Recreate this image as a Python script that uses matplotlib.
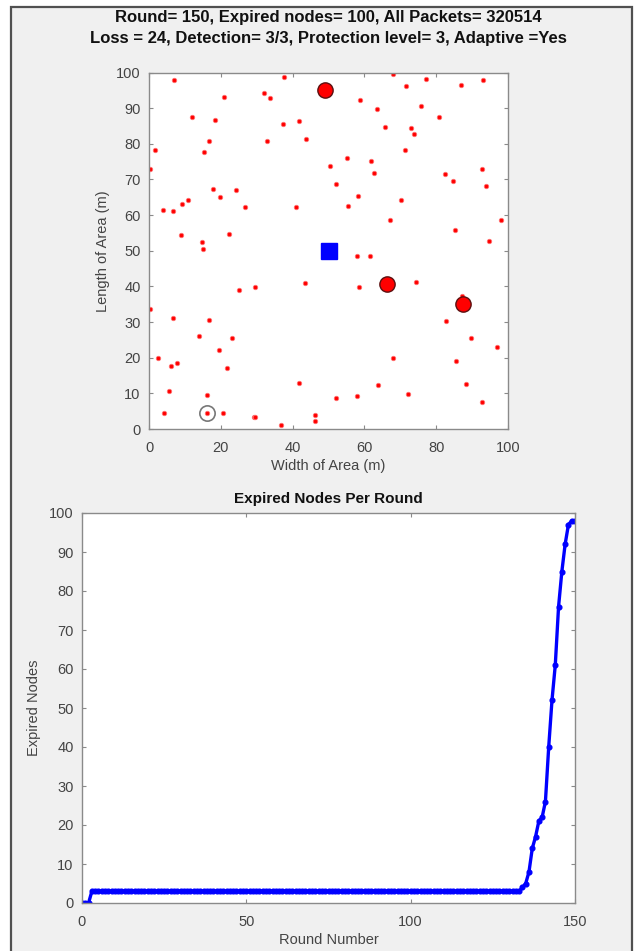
import matplotlib
matplotlib.use("Agg")
import matplotlib.pyplot as plt
from matplotlib.patches import Rectangle
import numpy as np

plt.rcParams['font.family'] = ['Liberation Sans', 'DejaVu Sans']

# ---------------- data ----------------
node_x = [7.0, 37.6, 21.0, 32.1, 33.6, 12.0, 18.4, 37.2, 41.8, 16.8, 32.8, 43.7, 1.6, 15.3, 0.2,
          17.7, 24.3, 19.9, 10.9, 9.3, 26.7, 40.9, 3.9, 6.7, 9.0, 22.2, 14.9, 15.0,
          68.0, 77.2, 87.0, 92.9, 71.5, 58.8, 63.6, 75.7, 80.9, 65.6, 73.0, 73.8, 71.3, 55.1, 61.7,
          50.4, 62.8, 82.5, 92.8, 84.7, 93.8, 52.1, 58.3, 55.4, 70.2, 67.0, 98.1, 85.2, 94.6,
          43.5, 29.5, 25.2, 0.3, 6.8, 16.6, 14.0, 23.1, 19.5, 2.5, 7.7, 6.1, 21.8, 41.7, 5.7, 16.2,
          4.3, 16.1, 20.7, 29.2, 29.6, 36.8, 46.3, 46.3,
          57.8, 61.6, 58.5, 74.4, 87.2, 82.8, 89.6, 97.0, 68.0, 85.5, 63.7, 88.3, 52.2, 58.0, 72.2, 92.7]
node_y = [97.8, 98.6, 93.1, 94.3, 92.9, 87.5, 86.6, 85.6, 86.3, 80.8, 80.8, 81.4, 78.2, 77.7, 73.0,
          67.3, 67.0, 65.1, 64.2, 63.2, 62.2, 62.2, 61.4, 61.1, 54.4, 54.8, 52.5, 50.6,
          99.7, 98.3, 96.6, 97.8, 96.3, 92.2, 89.9, 90.5, 87.4, 84.6, 84.5, 82.7, 78.3, 76.1, 75.2,
          73.7, 71.7, 71.6, 72.8, 69.6, 68.1, 68.8, 65.3, 62.6, 64.1, 58.5, 58.7, 55.8, 52.7,
          40.9, 39.9, 38.9, 33.8, 31.1, 30.5, 26.2, 25.4, 22.1, 20.0, 18.6, 17.6, 17.0, 12.8, 10.7, 9.4,
          4.5, 4.5, 4.6, 3.5, 3.5, 1.1, 3.9, 2.3,
          48.5, 48.5, 39.8, 41.2, 37.2, 30.2, 25.4, 23.0, 19.8, 19.1, 12.4, 12.7, 8.7, 9.2, 9.8, 7.6]

big_x = [49.0, 66.2, 87.6]
big_y = [95.0, 40.8, 35.0]
sink_x = [50.0]
sink_y = [50.0]
ring_x = [16.1]
ring_y = [4.5]

rounds = np.arange(0, 151)
expired = [0, 0, 0, 3, 3, 3, 3, 3, 3, 3,
           3, 3, 3, 3, 3, 3, 3, 3, 3, 3,
           3, 3, 3, 3, 3, 3, 3, 3, 3, 3,
           3, 3, 3, 3, 3, 3, 3, 3, 3, 3,
           3, 3, 3, 3, 3, 3, 3, 3, 3, 3,
           3, 3, 3, 3, 3, 3, 3, 3, 3, 3,
           3, 3, 3, 3, 3, 3, 3, 3, 3, 3,
           3, 3, 3, 3, 3, 3, 3, 3, 3, 3,
           3, 3, 3, 3, 3, 3, 3, 3, 3, 3,
           3, 3, 3, 3, 3, 3, 3, 3, 3, 3,
           3, 3, 3, 3, 3, 3, 3, 3, 3, 3,
           3, 3, 3, 3, 3, 3, 3, 3, 3, 3,
           3, 3, 3, 3, 3, 3, 3, 3, 3, 3,
           3, 3, 3, 3, 4, 5, 8, 14, 17, 21,
           22, 26, 40, 52, 61, 76, 85, 92, 97, 98,
           98]

top_title = "Round= 150, Expired nodes= 100, All Packets= 320514\nLoss = 24, Detection= 3/3, Protection level= 3, Adaptive =Yes"
top_xticks = [0, 20, 40, 60, 80, 100]
top_yticks = [0, 10, 20, 30, 40, 50, 60, 70, 80, 90, 100]
bot_xticks = [0, 50, 100, 150]
bot_yticks = [0, 10, 20, 30, 40, 50, 60, 70, 80, 90, 100]

# ---------------- figure ----------------
W, H = 637, 951
fig = plt.figure(figsize=(W / 100, H / 100), dpi=100, facecolor='white')
fig.patches.append(Rectangle((11 / W, -0.02), (632 - 11) / W, 1 - 7.5 / H + 0.02,
                             transform=fig.transFigure, facecolor='#f0f0f0',
                             edgecolor='#505050', linewidth=1.6, zorder=-10))

spine_c = '#8a8a8a'
lab_c = '#444444'


def style(ax):
    for s in ax.spines.values():
        s.set_color(spine_c)
        s.set_linewidth(1.0)
    ax.tick_params(direction='in', length=3, width=0.8, color=spine_c,
                   labelcolor=lab_c, labelsize=10.5, top=True, right=True)
    ax.tick_params(axis='x', pad=8.5)
    ax.tick_params(axis='y', pad=6)
    ax.set_facecolor('white')


# top axes
ax1 = fig.add_axes([149 / W, 1 - 429 / H, (508 - 149) / W, (429 - 72.5) / H])
style(ax1)
ax1.plot(node_x, node_y, linestyle='none', marker='o', markersize=3.2,
         markerfacecolor='red', markeredgecolor='#ff7070', markeredgewidth=0.6)
ax1.plot(big_x, big_y, linestyle='none', marker='o', markersize=11,
         markerfacecolor='red', markeredgecolor='#5a1010', markeredgewidth=1.0)
ax1.plot(sink_x, sink_y, linestyle='none', marker='s', markersize=11.5,
         markerfacecolor='blue', markeredgecolor='blue')
ax1.plot(ring_x, ring_y, linestyle='none', marker='o', markersize=11,
         markerfacecolor='none', markeredgecolor='#777777', markeredgewidth=1.2)
ax1.set_xlim(0, 100)
ax1.set_ylim(0, 100)
ax1.set_xticks(top_xticks)
ax1.set_yticks(top_yticks)
ax1.set_xlabel('Width of Area (m)', fontsize=10.5, color=lab_c, labelpad=3)
ax1.set_ylabel('Length of Area (m)', fontsize=10.5, color=lab_c, labelpad=4)
fig.text(328.5 / W, 1 - 28 / H, top_title, ha='center', va='center',
         fontsize=12, fontweight='bold', color='#111111', linespacing=1.5)

# bottom axes
ax2 = fig.add_axes([82 / W, 1 - 903 / H, (575 - 82) / W, (903 - 513) / H])
style(ax2)
ax2.plot(rounds, expired, color='blue', linewidth=2.4, marker='o',
         markersize=3.4, markerfacecolor='blue', markeredgecolor='blue')
ax2.set_xlim(0, 150)
ax2.set_ylim(0, 100)
ax2.set_xticks(bot_xticks)
ax2.set_yticks(bot_yticks)
ax2.set_xlabel('Round Number', fontsize=10.5, color=lab_c, labelpad=3)
ax2.set_ylabel('Expired Nodes', fontsize=10.5, color=lab_c, labelpad=6)
ax2.set_title('Expired Nodes Per Round', fontsize=11, fontweight='bold',
              color='#111111', pad=7)

fig.savefig('out.png', dpi=100, facecolor=fig.get_facecolor())
